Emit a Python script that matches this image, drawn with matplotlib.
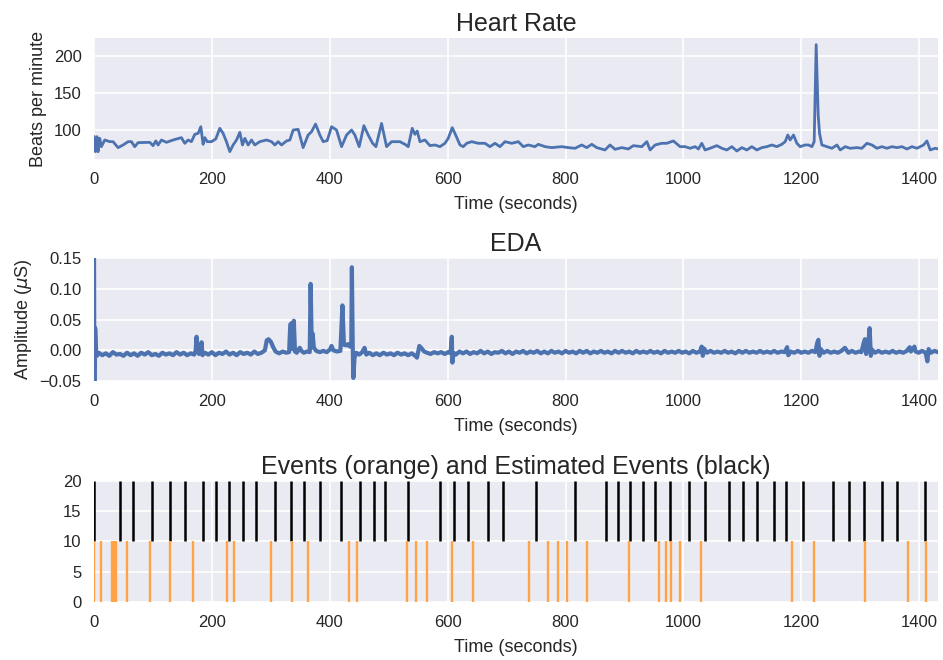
import matplotlib
matplotlib.use("Agg")
import matplotlib.pyplot as plt

# ---------------- data ----------------
hr_time = [0, 2.3, 5.1, 6.8, 9.7, 12.5, 18.2, 26.7, 32.3, 40.8, 49.3, 57.8, 63.5, 69.1, 74.8,
           94.6, 100.3, 104.8, 108.7, 114.4, 122.9, 134.2, 148.3, 154, 159.7, 165.3, 171, 176.7,
           181.2, 185.1, 188, 192, 199.3, 206.6, 213.4, 219, 224.7, 230.4, 236, 241.8, 247.4,
           251.9, 255.9, 261.5, 267.2, 272.8, 281.3, 292.6, 301.2, 306.8, 312.4, 318.2, 326.6,
           332.3, 337.9, 346.4, 354.8, 363.3, 369.1, 375.9, 383.2, 388.8, 395.6, 403, 411.5, 420,
           428.5, 437, 442.6, 449.9, 457.9, 465.2, 472.7, 478.3, 487.9, 496.4, 504.9, 519, 527.5,
           533.1, 539.9, 544.5, 548.4, 553, 561.5, 570, 578.4, 586.9, 595.4, 601, 607.8, 613.6,
           620.9, 626.5, 632.3, 640.7, 652, 663.3, 671.8, 680.3, 688.8, 697.3, 708.7, 719.9,
           728.4, 736.8, 748.2, 753.8, 765.2, 776.6, 793.5, 804.8, 816.1, 827.5, 836, 844.5, 853,
           867, 875.5, 884, 895.4, 906.6, 915.1, 929.4, 937.9, 943.5, 952, 963.3, 971.8, 983,
           994.4, 1002.9, 1011.4, 1019.9, 1025.5, 1031.2, 1036.8, 1045.3, 1056.7, 1065.2, 1073.7,
           1082.2, 1090.7, 1099.2, 1107.6, 1116.1, 1124.6, 1133.1, 1141.6, 1150.1, 1158.6, 1167,
           1172.7, 1177.2, 1181.2, 1186.8, 1192.5, 1198.1, 1206.6, 1212.2, 1218, 1221.9, 1225.3,
           1228.7, 1231, 1235, 1243.5, 1252, 1260.5, 1266.1, 1274.6, 1283, 1294.4, 1302.9, 1311.4,
           1319.9, 1328.4, 1336.8, 1345.3, 1353.8, 1362.3, 1370.8, 1379.3, 1387.8, 1396.3, 1407.5,
           1413.2, 1418.8, 1427.3, 1432.9]
hr_bpm = [90.5, 70.1, 90.5, 70, 88.3, 76.9, 86, 83.7, 83.7, 75.6, 79.2, 83.7, 83.7, 76.9, 82.4,
          82.8, 78.3, 84.7, 79.2, 86, 82.8, 86, 89.2, 81.5, 86, 83.7, 93.7, 95.1,
          104.1, 80.1, 89.2, 83.7, 83.7, 87.4, 101.9, 95.1, 83.7, 70.1, 79.2, 86, 96.4,
          79.2, 88.3, 79.2, 86, 79.2, 83.7, 86, 83.7, 79.2, 83.7, 79.2, 84.7,
          86, 99.6, 100.5, 75.6, 92.8, 97.3, 107.7, 92.8, 83.7, 85.1, 104.1, 99.6, 76.9,
          92.8, 99.6, 92.8, 76.9, 105.5, 92.8, 81.5, 76.9, 108.6, 76.9, 83.7, 83.7, 80.1,
          76.9, 101.9, 93.7, 98.2, 83.7, 86, 78.3, 79.2, 76.9, 81.5, 88.3, 102.8, 92.8,
          79.2, 76.9, 81.5, 83.7, 81.5, 81.5, 76.9, 81.5, 76.9, 83.7, 81.5, 83.7,
          76.9, 79.2, 76.9, 80.1, 76.9, 75.6, 76.9, 75.6, 74.7, 79.2, 75.6, 80.1, 75.6,
          72.4, 79.2, 73.3, 75.6, 73.7, 78.3, 76.9, 83.7, 72.4, 79.2, 81.5, 81.5, 84.7,
          76.9, 76.9, 74.7, 76.9, 73.7, 81.5, 72.4, 74.7, 78.3, 74.7, 72.4,
          76.9, 71, 75.6, 72.4, 76.9, 72.4, 75.6, 76.9, 79.2, 76.9, 80.1,
          83.7, 92.8, 86, 92.8, 81.5, 76.9, 79.2, 79.2, 76.9, 83.7, 216,
          120, 95, 79.2, 76.9, 74.7, 79.2, 72.4, 76.9, 74.7, 75.6, 74.7, 81.5,
          79.2, 74.7, 76.9, 74.7, 76.9, 75.6, 76.9, 73.7, 76.9, 74.7, 79.2,
          84.7, 72.4, 74.7, 73.7]

eda_time = [0, 0.6, 1.3, 2.5, 3.5, 5,
            8, 14, 20, 26, 32, 38, 44, 50, 56, 62, 68, 74, 80, 86, 92, 98, 104, 110, 116, 122,
            128, 134, 140, 146, 152, 158, 164, 170,
            172.5, 174, 175.5, 178, 181, 182.5, 184, 188,
            194, 200, 206, 212, 218, 224, 230, 236, 242, 248, 254, 260, 266, 272, 278, 284,
            290, 293, 296, 300, 304, 308, 314, 320, 326, 331,
            333, 335, 337, 339, 341, 344, 349, 352, 356, 361, 366,
            367.5, 369.5, 371, 373, 377, 383, 389, 395, 401, 403, 406, 412, 418,
            421.5, 424, 428, 431, 434, 436.5, 437.5, 439, 440, 442, 445, 450, 455, 459, 462,
            467, 473, 479, 485, 491, 497, 503, 509, 515, 521, 527, 533, 539, 545, 548, 552, 556,
            560, 565, 571, 577, 583, 589, 595, 601, 605, 607, 608, 610, 614, 620,
            626, 632, 638, 644, 650, 656, 662, 668, 674, 680, 686, 692, 698, 704, 710, 716, 722,
            728, 734, 740, 746, 752, 758, 764, 770, 776, 782, 788, 794, 800, 806, 812, 818, 824,
            830, 836, 842, 848, 854, 860, 866, 872, 878, 884, 890, 896, 902, 908, 914, 920, 926,
            932, 938, 944, 950, 956, 962, 968, 974, 980, 986, 992, 998, 1004, 1010, 1016, 1022,
            1028, 1031, 1033, 1035,
            1040, 1046, 1052, 1058, 1064, 1070, 1076, 1082, 1088, 1094, 1100, 1106, 1112, 1118,
            1124, 1130, 1136, 1142, 1148, 1154, 1160, 1166, 1172, 1176, 1178,
            1182, 1188, 1194, 1200, 1206, 1212, 1218, 1224, 1227, 1229, 1231, 1233,
            1238, 1244, 1250, 1256, 1262, 1268, 1274, 1280, 1286, 1292, 1298, 1302,
            1306, 1308, 1310, 1313, 1316, 1318, 1320,
            1325, 1331, 1337, 1343, 1349, 1355, 1361, 1367, 1373, 1379, 1384, 1386, 1392, 1394,
            1399, 1405, 1411, 1414, 1416, 1420, 1426, 1432]
eda_amp = [0.16, -0.06, 0.037, 0.034, -0.003, -0.009,
           -0.004, -0.008, -0.005, -0.009, -0.003, -0.007, -0.006, -0.009, -0.004, -0.008,
           -0.005, -0.009, -0.004, -0.007, -0.003, -0.008, -0.006, -0.009, -0.004, -0.007,
           -0.005, -0.008, -0.003, -0.007, -0.004, -0.008, -0.005, -0.007,
           0.0, 0.022, 0.002, -0.006, 0.0, 0.013, -0.008, -0.004,
           -0.007, -0.003, -0.008, -0.004, -0.006, -0.002, -0.007, -0.004, -0.008, -0.003,
           -0.006, -0.004, -0.007, -0.002, -0.006, -0.004,
           0.0, 0.016, 0.018, 0.014, 0.005, -0.002, -0.005, -0.002, -0.004, -0.003,
           0.042, 0.044, 0.002, 0.048, -0.002, -0.004, 0.004, -0.001, -0.004, -0.002, -0.003,
           0.108, 0.005, 0.027, 0.004, -0.001, -0.003, -0.001, -0.003, 0.002, 0.007, 0.0,
           -0.002, -0.001,
           0.073, 0.009, 0.008, 0.010, 0.006, 0.009, 0.135, 0.004, -0.045, -0.012, -0.004,
           -0.007, -0.003, 0.004, -0.007,
           -0.004, -0.008, -0.005, -0.008, -0.004, -0.007, -0.005, -0.008, -0.004, -0.007,
           -0.005, -0.008, -0.005, -0.009, -0.012, 0.007, 0.003,
           -0.002, -0.004, -0.006, -0.003, -0.005, -0.003, -0.006, -0.003, -0.005, 0.022,
           -0.020, -0.004, -0.007, -0.002,
           -0.005, -0.002, -0.006, -0.003, -0.005, -0.001, -0.005, -0.002, -0.006, -0.003,
           -0.004, -0.001, -0.005, -0.002, -0.006, -0.002, -0.004,
           -0.001, -0.005, -0.002, -0.004, -0.001, -0.005, -0.002, -0.005, -0.001, -0.004,
           -0.002, -0.005, -0.001, -0.004, -0.002, -0.005, -0.001, -0.004,
           -0.001, -0.005, -0.002, -0.004, -0.001, -0.004, -0.002, -0.005, -0.001, -0.004,
           -0.001, -0.004, -0.002, -0.005, -0.001, -0.004, -0.002,
           -0.004, -0.001, -0.004, -0.002, -0.005, -0.001, -0.004, -0.002, -0.004, -0.001,
           -0.004, -0.002, -0.005, -0.001, -0.004, -0.002,
           0.006, -0.009, 0.003,
           -0.004, -0.001, -0.004, -0.002, -0.004, -0.001, -0.004, -0.002, -0.005, -0.001,
           -0.004, -0.001, -0.004, -0.002, -0.004, -0.001, -0.004, -0.002, -0.004, -0.001,
           -0.004, -0.002, -0.003, 0.005, -0.008,
           -0.002, -0.004, -0.001, -0.004, -0.002, -0.004, -0.001, -0.003, 0.012, 0.017,
           -0.009, 0.002,
           -0.004, -0.001, -0.004, -0.002, -0.004, -0.001, 0.004, -0.004, -0.001, -0.004,
           -0.002, -0.003,
           0.012, 0.018, -0.006, 0.004, 0.036, -0.009, 0.001,
           -0.004, -0.001, -0.004, -0.002, -0.004, -0.001, -0.004, -0.002, -0.004, -0.001,
           0.005, -0.002, 0.006, -0.002,
           -0.004, -0.001, -0.004, -0.018, 0.002, -0.004, -0.001, -0.003]

true_events = [0, 12.5, 31.2, 34.6, 38.0, 56.6, 95.7, 129.7, 168.7, 225.3, 237.7, 301.1, 335.1,
               363.4, 433.0, 446.6, 530.3, 546.7, 564.9, 607.9, 643.5, 737.5, 769.7, 787.8,
               802.5, 837.1, 908.4, 958.8, 971.2, 978.6, 995.0, 1030.1, 1184.0, 1220.8, 1307.9,
               1381.0, 1412.1]
estimated_events = [0, 44.8, 66.9, 98.5, 128.5, 155.1, 185.1, 207.8, 229.3, 252.0, 274.0, 307.4,
                    334.5, 355.5, 383.2, 418.3, 451.1, 475.4, 494.1, 532.6, 586.9, 610.7, 633.9,
                    667.9, 694.4, 749.3, 816.8, 868.8, 888.6, 909.0, 932.2, 952.5, 977.4, 1009.1,
                    1037.4, 1078.2, 1100.8, 1124.6, 1152.9, 1173.8, 1202.1, 1254.2, 1280.8,
                    1305.7, 1336.8, 1362.8, 1409.8]

x_ticks = [0, 200, 400, 600, 800, 1000, 1200, 1400]
x_max = 1432

# ---------------- style ----------------
plt.rcParams.update({
    "font.family": ["Liberation Sans", "DejaVu Sans"],
    "axes.facecolor": "#EAEAF2",
    "axes.edgecolor": "white",
    "axes.grid": True,
    "grid.color": "white",
    "grid.linewidth": 1.2,
    "axes.axisbelow": True,
    "text.color": "#262626",
    "axes.labelcolor": "#262626",
    "xtick.color": "#262626",
    "ytick.color": "#262626",
    "xtick.major.size": 0,
    "ytick.major.size": 0,
    "xtick.labelsize": 12,
    "ytick.labelsize": 12,
    "axes.labelsize": 13,
    "axes.titlesize": 18,
    "mathtext.fontset": "dejavusans",
})

blue = "#4C72B0"
orange = "#FFA346"

fig = plt.figure(figsize=(9.43, 6.6), dpi=100)
left, width = 0.0997, 0.895
ax1 = fig.add_axes([left, 0.759, width, 0.1834])
ax2 = fig.add_axes([left, 0.4227, width, 0.1863])
ax3 = fig.add_axes([left, 0.0879, width, 0.1833])

for ax in (ax1, ax2, ax3):
    for s in ax.spines.values():
        s.set_visible(False)
    ax.set_xlim(0, x_max)
    ax.set_xticks(x_ticks)
    ax.set_xlabel("Time (seconds)", labelpad=6.5)
    ax.tick_params(axis="x", pad=9.5)
    ax.tick_params(axis="y", pad=9)

ax1.plot(hr_time, hr_bpm, color=blue, lw=2.0)
ax1.set_ylim(60, 225)
ax1.set_yticks([100, 150, 200])
ax1.set_ylabel("Beats per minute", labelpad=5)
ax1.set_title("Heart Rate", pad=5)

ax2.plot(eda_time, eda_amp, color=blue, lw=3.0)
ax2.set_ylim(-0.05, 0.15)
ax2.set_yticks([-0.05, 0.0, 0.05, 0.10, 0.15])
ax2.set_yticklabels(["\u22120.05", "0.00", "0.05", "0.10", "0.15"])
ax2.set_ylabel(r"Amplitude ($\mu$S)", labelpad=4)
ax2.set_title("EDA", pad=5)

ax3.vlines(estimated_events, 10, 20, color="black", lw=1.8)
ax3.vlines(true_events, 0, 10, color=orange, lw=1.7)
ax3.set_ylim(0, 20)
ax3.set_yticks([0, 5, 10, 15, 20])
ax3.set_title("Events (orange) and Estimated Events (black)", pad=5)

fig.savefig("out.png", dpi=100)
